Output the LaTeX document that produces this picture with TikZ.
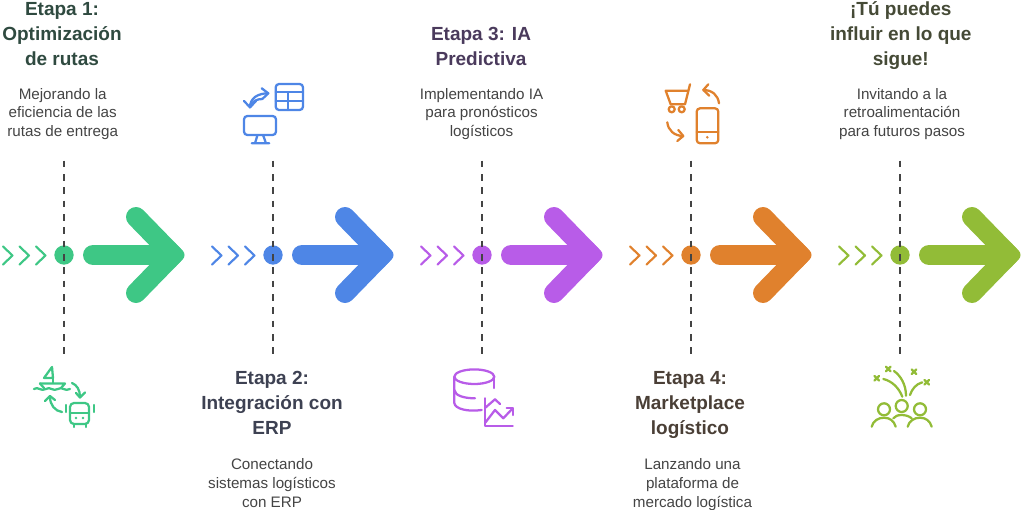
\documentclass[tikz,border=0pt]{standalone}
\usepackage{fontspec}
\setmainfont{Liberation Sans}
\definecolor{cA}{HTML}{3EC785}
\definecolor{cB}{HTML}{4E86E6}
\definecolor{cC}{HTML}{B85CE8}
\definecolor{cD}{HTML}{E0812D}
\definecolor{cE}{HTML}{92BC37}
\definecolor{tA}{HTML}{2F4A40}
\definecolor{tB}{HTML}{3D4152}
\definecolor{tC}{HTML}{4A3A5C}
\definecolor{tD}{HTML}{4A3F36}
\definecolor{tE}{HTML}{454A36}
\definecolor{bodyc}{HTML}{444444}
\tikzset{
  x=0.75pt,y=-0.75pt,
  guide/.style={draw=bodyc,line width=1.95pt,dash pattern=on 5pt off 5pt},
  dotmark/.style={circle,inner sep=0pt,minimum size=14.5pt},
  chev/.style={line width=1.6pt,line cap=round,line join=round},
  bigshape/.style={line width=15pt,line cap=round,line join=round},
  icon/.style={line width=1.7pt,line cap=round,line join=round},
  ttl/.style={font=\fontsize{14.25}{18.75}\selectfont\bfseries,align=center,inner sep=0pt},
  bdy/.style={font=\fontsize{11.4}{14.1}\selectfont,text=bodyc,align=center,inner sep=0pt},
}
\begin{document}
\begin{tikzpicture}
\useasboundingbox (0,0) rectangle (1024,510);
\foreach \i/\c in {0/cA,1/cB,2/cC,3/cD,4/cE}{
\begin{scope}[xshift=\i*156.75pt]
  \foreach \d in {0,16.5,33}
    \draw[chev,\c] (3+\d,246.5) -- (12.5+\d,255.5) -- (3+\d,264.5);
  \node[dotmark,fill=\c] (dot\i) at (64,255) {};
  \coordinate (top\i) at (64,160.7);
  \coordinate (bot\i) at (64,354.5);
  \draw[guide] (top\i) -- (bot\i);
  \draw[bigshape,\c] (93,255) -- (170,255);
  \draw[bigshape,\c] (136,217) -- (173,255) -- (136,293);
  \fill[\c,rounded corners=4.5pt] (171,239) -- (187,255) -- (171,271) -- (158,255) -- cycle;
\end{scope}}
% texts
\node[ttl,text=tA] (title1) at (62,34) {Etapa 1:\\Optimización\\de rutas};
\node[bdy] (body1) at (62.7,114) {Mejorando la\\eficiencia de las\\rutas de entrega};
\node[ttl,text=tB] (title2) at (272,403.3) {Etapa 2:\\Integración con\\ERP};
\node[bdy] (body2) at (272,482.8) {Conectando\\sistemas logísticos\\con ERP};
\node[ttl,text=tC] (title3) at (481,46.5) {Etapa 3: IA\\Predictiva};
\node[bdy] (body3) at (481.5,114) {Implementando IA\\para pronósticos\\logísticos};
\node[ttl,text=tD] (title4) at (690,405.3) {Etapa 4:\\Marketplace\\logístico};
\node[bdy] (body4) at (692.5,484.3) {Lanzando una\\plataforma de\\mercado logística};
\node[ttl,text=tE] (title5) at (900.8,35.3) {¡Tú puedes\\influir en lo que\\sigue!};
\node[bdy] (body5) at (902,114) {Invitando a la\\retroalimentación\\para futuros pasos};
% icon 1
\begin{scope}[icon,draw=cA]
  \draw (52,367) -- (53,378) -- (44,378) -- cycle;
  \draw (53,378) -- (53,383);
  \draw (40,383.5) -- (65,383.5) -- (61,388);
  \draw (40,383.5) -- (44,388);
  \draw (34,389) .. controls (38,386) and (41,392) .. (46,389) .. controls (50,386) and (53,392) .. (58,389) .. controls (62,386) and (65,392) .. (70,389);
  \draw (72,383) .. controls (77,385) and (80,390) .. (80,397);
  \draw (76,393) -- (80,397.5) -- (85,392.5);
  \draw (62,412) .. controls (55,411) and (50,405) .. (50,397);
  \draw (45,401) -- (50,396) -- (55,400);
  \draw[rounded corners=3pt] (70,403) rectangle (89,424);
  \draw (70,413) -- (89,413);
  \fill[cA] (76,418) circle (1.4) (83,418) circle (1.4);
  \draw (74,424) -- (74,427) (86,424) -- (86,427);
  \draw (65.7,405) -- (65.7,412) (94,405) -- (94,412);
\end{scope}
% icon 2
\begin{scope}[icon,draw=cB]
  \draw[rounded corners=2.5pt] (275.7,84) rectangle (303,110);
  \draw (275.7,92.3) -- (303,92.3) (275.7,101) -- (303,101) (288.3,92.3) -- (288.3,110);
  \draw[rounded corners=2.5pt] (244,116) rectangle (276,135);
  \draw (257.3,135.7) -- (255,143.3) (263.3,135.7) -- (266,143.3) (251.7,143.3) -- (269.3,143.3);
  \draw (250,107.3) .. controls (250,98) and (258,93.3) .. (268.3,93.3);
  \draw (261.7,88.3) -- (268.3,93.3) -- (262.3,99);
  \draw (250,107.3) .. controls (252,101) and (257,99) .. (262.3,99);
  \draw (244,101) -- (250,107.3) -- (256,101);
\end{scope}
% icon 3
\begin{scope}[icon,draw=cC]
  \draw (474.3,376.7) ellipse [x radius=20,y radius=7.3];
  \draw (454.3,376.7) -- (454.3,403) .. controls (455,409) and (468,412) .. (481.7,410);
  \draw (454.3,390) .. controls (455,396) and (465,398.3) .. (475,398.3);
  \draw (494.3,376.7) -- (494.3,388);
  \draw (485,398.3) -- (485,425.7) -- (512.7,425.7);
  \draw (485,408) -- (495,399.3) -- (500,404);
  \draw (485,423) -- (495,410) -- (503.3,418.3) -- (512.7,408.3);
  \draw (506.7,408.3) -- (512.7,408.3) -- (512.7,415);
\end{scope}
% icon 4
\begin{scope}[icon,draw=cD]
  \draw (690,84.3) -- (685,104.3) -- (670.7,104.3) -- (665.7,90.7) -- (688.5,90.7);
  \draw (671.7,109.3) circle (3) (681.7,109.3) circle (3);
  \draw[rounded corners=2.5pt] (696.7,108.3) rectangle (718.3,143.3);
  \draw (696.7,132.3) -- (718.3,132.3);
  \fill[cD] (707.3,137.3) circle (1.4);
  \draw (719,103.3) .. controls (718,95) and (712,90) .. (703.3,90);
  \draw (708.3,84.3) -- (703.3,90) -- (709.3,95.7);
  \draw (667.3,122.3) .. controls (668,130) and (674,136) .. (683.3,136);
  \draw (678.3,130) -- (683.3,136) -- (677.3,141);
\end{scope}
% icon 5
\begin{scope}[icon,draw=cE]
  \draw (884,409.3) circle (6) (901.7,406) circle (6) (920,409.3) circle (6);
  \draw (871.7,426.7) .. controls (873,421) and (878,417.7) .. (884,417.7) .. controls (890,417.7) and (894,421) .. (895.7,426.7);
  \draw (893.3,418.3) .. controls (895,416) and (898,415) .. (901.7,415) .. controls (905,415) and (909,416) .. (911.7,418.3);
  \draw (907.7,426.7) .. controls (909,421) and (914,417.7) .. (920,417.7) .. controls (926,417.7) and (930,421) .. (931.7,426.7);
  \draw (883.3,379) .. controls (892,381) and (899,388) .. (902.3,396.7);
  \draw (894,371) .. controls (901,376) and (906,385) .. (906,395.7);
  \draw (922.3,382.3) .. controls (916,384) and (912,389) .. (910,395);
  \foreach \mx/\my in {876.7/378.3,888.3/369,914/371.7,926.7/382.3}
    \draw (\mx-2.3,\my-2.3) -- (\mx+2.3,\my+2.3) (\mx-2.3,\my+2.3) -- (\mx+2.3,\my-2.3);
\end{scope}
\end{tikzpicture}
\end{document}
